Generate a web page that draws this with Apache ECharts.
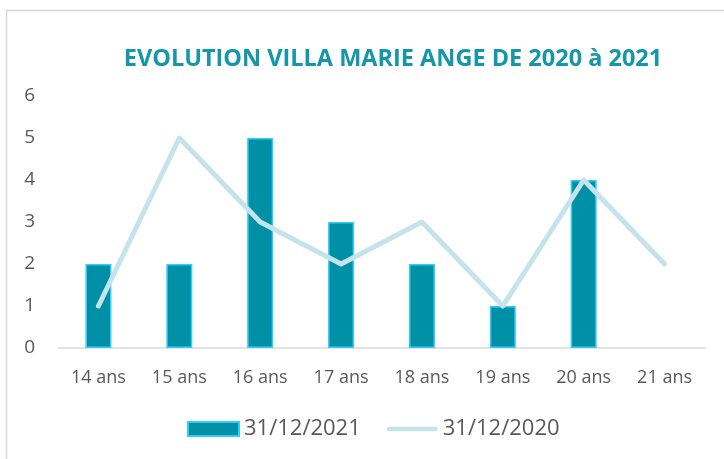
<!DOCTYPE html>
<html><head><meta charset="utf-8">
<script src="https://cdn.jsdelivr.net/npm/echarts@6/dist/echarts.min.js"></script>
<style>html,body{margin:0;padding:0;background:#fff}#c{width:724px;height:459px}</style>
</head><body><div id="c"></div>
<script>
const categories = ['14 ans','15 ans','16 ans','17 ans','18 ans','19 ans','20 ans','21 ans'];
const values2021 = [2,2,5,3,2,1,4,null];
const values2020 = [1,5,3,2,3,1,4,2];
const yTicks = [0,1,2,3,4,5,6];
const chart = echarts.init(document.getElementById('c'));
chart.setOption({
  animation:false,
  graphic:[{type:'polyline',shape:{points:[[6.5,470],[6.5,10.5],[730,10.5]]},style:{stroke:'#d9d9d9',lineWidth:1.5,fill:null}}],
  title:{text:'EVOLUTION VILLA MARIE ANGE DE 2020 à 2021',left:388,textAlign:'center',top:42,
    textStyle:{fontFamily:'Open Sans',fontWeight:'bold',fontSize:23.5,color:'#1497a8'}},
  grid:{left:58,right:19,top:96,bottom:111,containLabel:false},
  legend:{bottom:14,left:182,itemWidth:51,itemHeight:14,itemGap:26,
    textStyle:{fontFamily:'Open Sans',fontSize:22,color:'#595959',padding:[0,0,0,0]},
    data:[{name:'31/12/2021',icon:'rect'},
          {name:'31/12/2020',icon:'path://M2.5,0 L53.5,0 A2.5,2.5 0 0 1 53.5,5 L2.5,5 A2.5,2.5 0 0 1 2.5,0 Z',
           itemStyle:{color:'#c5e3ea',borderWidth:0}}]},
  xAxis:{type:'category',data:categories,axisLine:{lineStyle:{color:'#d9d9d9',width:1.5}},axisTick:{show:false},
    axisLabel:{fontFamily:'Open Sans',fontSize:18,color:'#595959',margin:21}},
  yAxis:{type:'value',min:0,max:6,interval:1,axisLine:{show:false},axisTick:{show:false},splitLine:{show:false},
    axisLabel:{fontFamily:'Open Sans',fontSize:19,color:'#595959',margin:23,formatter:v=>yTicks.includes(v)?String(v):''}},
  series:[
    {name:'31/12/2021',type:'bar',data:values2021,barWidth:26,
      itemStyle:{color:'#0090a5',borderColor:'#33ccff',borderWidth:1.5}},
    {name:'31/12/2020',type:'line',data:values2020,symbol:'none',
      lineStyle:{color:'#c5e3ea',width:5,cap:'round',join:'round'},itemStyle:{color:'#c5e3ea'}}
  ]
});
</script></body></html>
